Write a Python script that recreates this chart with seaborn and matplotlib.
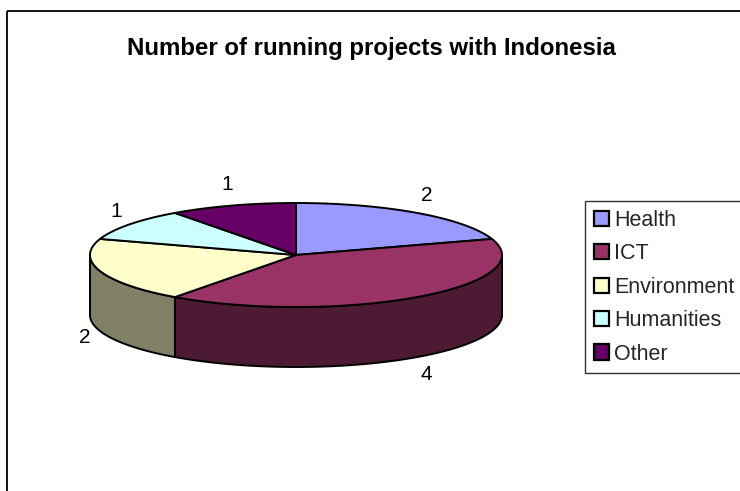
import numpy as np
import matplotlib
matplotlib.use("Agg")
import matplotlib.pyplot as plt
from matplotlib.patches import Polygon, Patch, Rectangle
import seaborn as sns

# Data
categories = ["Health", "ICT", "Environment", "Humanities", "Other"]
projects = [2, 4, 2, 1, 1]
top_colors = ["#9999FF", "#993366", "#FFFFCC", "#CCFFFF", "#660066"]
chart_title = "Number of running projects with Indonesia"

sns.set_theme(style="white")
plt.rcParams["font.family"] = ["Liberation Sans", "DejaVu Sans"]

W, H = 740, 491
fig = plt.figure(figsize=(W / 100, H / 100), dpi=100)
ax = fig.add_axes([0, 0, 1, 1])
ax.set_xlim(0, W)
ax.set_ylim(H, 0)
ax.axis("off")

# chart area border (runs off the right and bottom edges)
ax.add_patch(Rectangle((7, 11), W, H, fill=False, ec="black", lw=1.3))

ax.text(371, 48, chart_title, ha="center", va="center",
        fontsize=17.3, fontweight="bold", color="black")

# 3D pie geometry (pixel space, y pointing down)
cx, cy, a, b, depth = 296, 255, 206, 52, 60


def ellipse(theta, dy=0.0):
    return np.column_stack([cx + a * np.cos(theta), cy - b * np.sin(theta) + dy])


top = sns.color_palette(top_colors)
side = [tuple(c * 0.5 for c in col) for col in top]

vals = np.asarray(projects, dtype=float)
frac = vals / vals.sum()
ends = np.pi / 2 - 2 * np.pi * np.cumsum(frac)
starts = ends + 2 * np.pi * frac

edge_kw = dict(edgecolor="black", linewidth=1.4, joinstyle="round")

# front walls of the cylinder
for s, e, col in zip(starts, ends, side):
    lo, hi = max(e, -np.pi), min(s, 0.0)
    if hi <= lo:
        continue
    t = np.linspace(lo, hi, 120)
    pts = np.vstack([ellipse(t), ellipse(t[::-1], depth)])
    ax.add_patch(Polygon(pts, closed=True, facecolor=col, **edge_kw))

# top faces
for s, e, col in zip(starts, ends, top):
    t = np.linspace(s, e, 200)
    pts = np.vstack([[cx, cy], ellipse(t)])
    ax.add_patch(Polygon(pts, closed=True, facecolor=col, **edge_kw))

# value labels
for s, e, v in zip(starts, ends, projects):
    m = (s + e) / 2
    lx = cx + 1.08 * a * np.cos(m)
    ly = cy - (b + 22) * np.sin(m) + (depth if np.sin(m) < 0 else 0)
    ax.text(lx, ly, f"{v:g}", ha="center", va="center", fontsize=15, color="black")

handles = [Patch(facecolor=c, edgecolor="black", linewidth=1.6) for c in top]
leg = ax.legend(handles, categories, loc="upper left",
                bbox_to_anchor=(585 / W, 1 - 201 / H), bbox_transform=fig.transFigure,
                frameon=True, fancybox=False, fontsize=15.5, handlelength=0.7,
                handleheight=0.7, handletextpad=0.25, labelspacing=0.58,
                borderpad=0.4, borderaxespad=0)
leg.get_frame().set_edgecolor("black")
leg.get_frame().set_linewidth(1.0)

fig.savefig("out.png", dpi=100, facecolor="white")
